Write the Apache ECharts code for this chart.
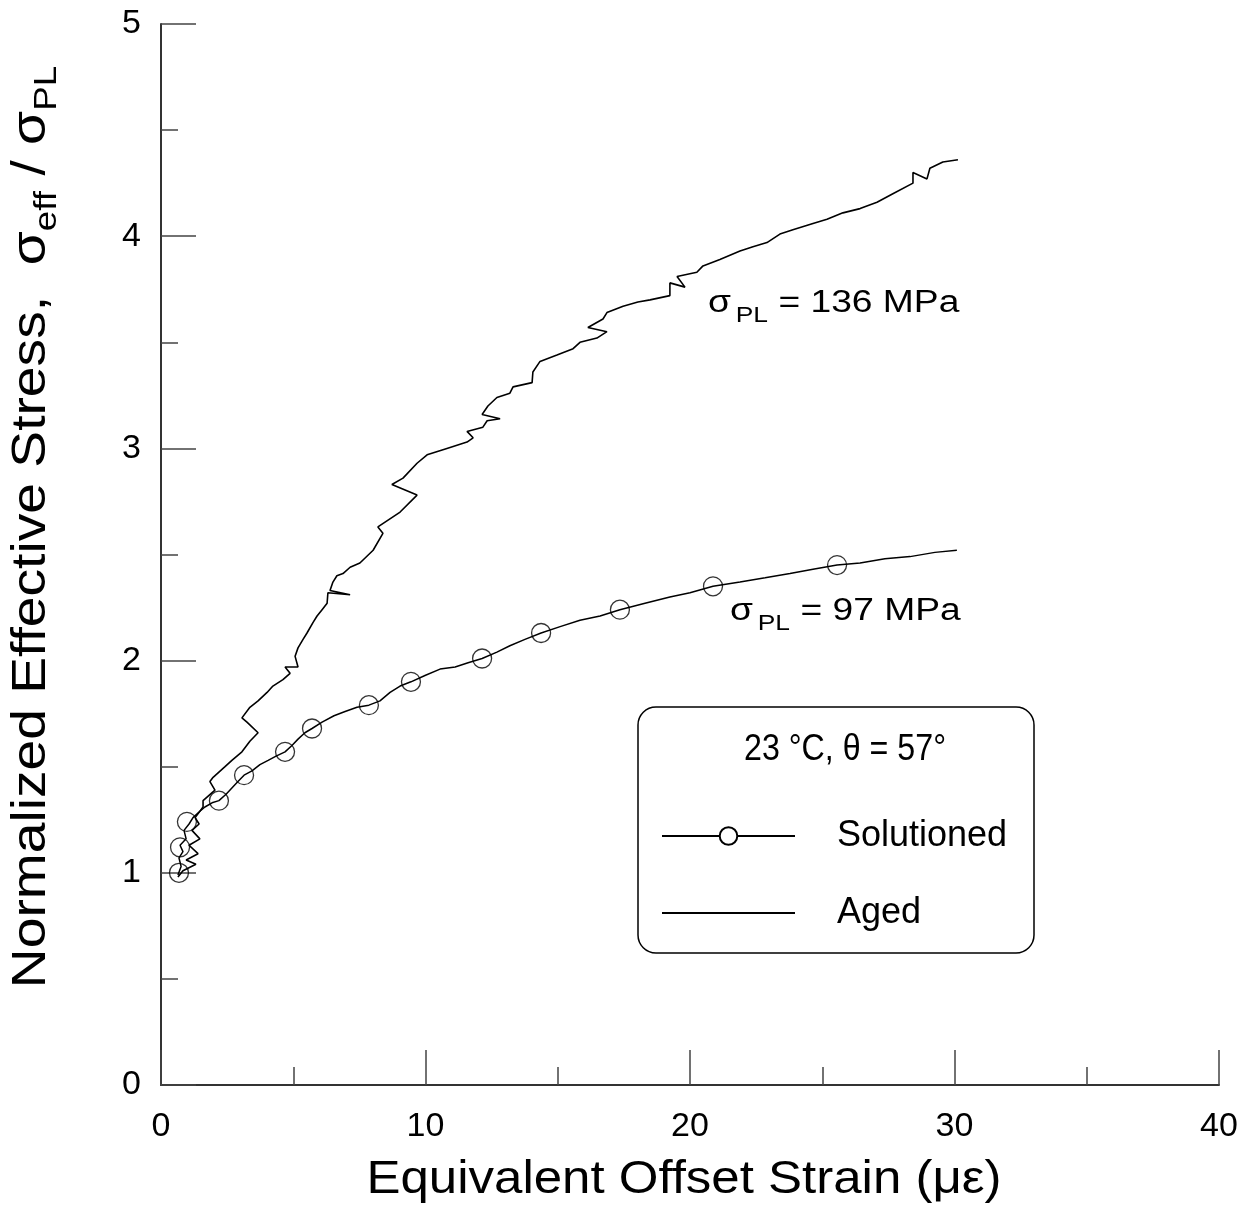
<!DOCTYPE html>
<html>
<head>
<meta charset="utf-8">
<script src="https://cdn.jsdelivr.net/npm/echarts@6/dist/echarts.min.js"></script>
<style>
html,body{margin:0;padding:0;background:#fff;}
#chart{width:1252px;height:1211px;}
</style>
</head>
<body>
<div id="chart"></div>
<script>
// ---- data ----
var xTicks = [0, 10, 20, 30, 40];
var yTicks = [0, 1, 2, 3, 4, 5];

// Aged (sigma_PL = 136 MPa) trace
var agedX = [0.64,0.83,1.32,0.95,1.40,1.06,1.47,1.17,1.44,1.29,1.59,1.59,2.04,1.85,1.97,2.42,2.68,3.06,3.36,3.67,3.25,3.06,3.36,3.67,4.01,4.23,4.61,4.88,4.69,5.18,5.07,5.18,5.37,5.52,5.75,5.90,6.09,6.28,6.31,7.15,6.39,6.50,6.65,6.88,7.15,7.52,8.02,8.39,8.20,9.04,9.68,8.73,9.15,9.68,10.06,10.81,11.57,11.80,11.57,12.17,12.33,12.82,12.14,12.36,12.70,13.19,13.31,14.03,14.06,14.33,14.97,15.58,15.84,16.48,16.86,16.14,16.71,16.86,17.47,18.03,18.49,19.24,19.24,19.81,19.51,20.26,20.49,21.13,21.89,22.38,22.91,23.40,23.89,24.65,25.18,25.78,26.43,27.07,27.67,28.43,28.43,28.96,29.07,29.56,30.13];
var agedY = [0.98,1.01,1.04,1.06,1.09,1.13,1.16,1.20,1.23,1.26,1.31,1.34,1.39,1.43,1.45,1.50,1.53,1.57,1.62,1.66,1.71,1.73,1.78,1.81,1.85,1.88,1.91,1.94,1.97,1.97,2.02,2.06,2.10,2.13,2.18,2.21,2.24,2.27,2.32,2.31,2.33,2.37,2.40,2.41,2.44,2.46,2.52,2.60,2.63,2.70,2.78,2.83,2.86,2.93,2.97,3.00,3.03,3.05,3.08,3.10,3.13,3.14,3.16,3.20,3.24,3.26,3.29,3.31,3.36,3.41,3.44,3.47,3.50,3.52,3.55,3.57,3.61,3.64,3.67,3.69,3.70,3.72,3.78,3.76,3.81,3.83,3.86,3.89,3.93,3.95,3.97,4.01,4.03,4.06,4.08,4.11,4.13,4.16,4.20,4.25,4.30,4.27,4.32,4.35,4.36];

// Solutioned (sigma_PL = 97 MPa) trace
var solX = [0.64,0.76,0.68,0.83,0.72,0.95,0.87,1.06,1.21,1.47,1.66,1.93,2.19,2.46,2.68,2.91,3.14,3.44,3.74,4.05,4.35,4.69,4.95,5.18,5.44,5.71,6.09,6.54,6.96,7.41,7.86,8.28,8.66,9.04,9.45,9.98,10.55,11.12,11.61,12.14,12.70,13.19,13.76,14.37,15.09,15.84,16.60,17.35,18.30,19.24,20.00,20.87,21.89,22.84,23.78,24.65,25.56,26.43,27.37,28.32,29.26,30.09];
var solY = [0.99,1.03,1.07,1.10,1.13,1.16,1.20,1.23,1.26,1.29,1.31,1.33,1.34,1.37,1.40,1.43,1.46,1.48,1.51,1.53,1.55,1.57,1.60,1.63,1.66,1.68,1.71,1.74,1.76,1.78,1.79,1.81,1.85,1.88,1.90,1.93,1.96,1.97,1.99,2.01,2.04,2.07,2.10,2.13,2.16,2.19,2.21,2.24,2.27,2.30,2.32,2.35,2.37,2.39,2.41,2.43,2.45,2.46,2.48,2.49,2.51,2.52];

// Solutioned marker points
var markX = [0.68,0.72,0.98,2.19,3.14,4.69,5.71,7.86,9.45,12.14,14.37,17.35,20.87,25.56];
var markY = [1.00,1.12,1.24,1.34,1.46,1.57,1.68,1.79,1.90,2.01,2.13,2.24,2.35,2.45];

var seriesNames = ['Solutioned', 'Aged'];
var legendTitle = '23 \u00B0C, \u03B8 = 57\u00B0';
var xTitle = 'Equivalent Offset Strain (\u03BC\u03B5)';
var yTitle = ['Normalized Effective Stress,  \u03C3', 'eff', ' / \u03C3', 'PL'];
var annAged = ['\u03C3', 'PL', ' = 136 MPa'];
var annSol = ['\u03C3', 'PL', ' = 97 MPa'];

function zip(a, b) { return a.map(function (v, i) { return [v, b[i]]; }); }

var SANS = "'Liberation Sans',Arial,sans-serif";

function annText(parts, x, y) {
  return {
    type: 'text', z: 5, x: x, y: y, scaleX: 1.2,
    style: {
      text: '{a|' + parts[0] + '}{s|' + parts[1] + '}{a|' + parts[2] + '}',
      verticalAlign: 'middle', align: 'left',
      rich: {a: {fontFamily: SANS, fontSize: 31, fill: '#000'},
             s: {fontFamily: SANS, fontSize: 22, fill: '#000', padding: [26, 0, 0, 4]}}
    }
  };
}

var chart = echarts.init(document.getElementById('chart'), null, {renderer: 'canvas'});
chart.setOption({
  animation: false,
  backgroundColor: '#fff',
  grid: {left: 161, right: 33, top: 24, bottom: 126, containLabel: false},
  xAxis: {
    type: 'value', min: xTicks[0], max: xTicks[xTicks.length - 1], interval: 10,
    axisLine: {show: true, onZero: false, lineStyle: {color: '#333', width: 2}},
    axisTick: {show: true, inside: true, length: 35, lineStyle: {color: '#444', width: 1.5}},
    minorTick: {show: true, splitNumber: 2, length: 18, lineStyle: {color: '#444', width: 1.5}},
    axisLabel: {fontFamily: SANS, fontSize: 34, color: '#000', margin: 25},
    splitLine: {show: false}
  },
  yAxis: {
    type: 'value', min: yTicks[0], max: yTicks[yTicks.length - 1], interval: 1,
    axisLine: {show: true, onZero: false, lineStyle: {color: '#333', width: 2}},
    axisTick: {show: true, inside: true, length: 35, lineStyle: {color: '#444', width: 1.5}},
    minorTick: {show: true, splitNumber: 2, length: 17, lineStyle: {color: '#444', width: 1.5}},
    axisLabel: {fontFamily: SANS, fontSize: 34, color: '#000', margin: 20},
    splitLine: {show: false}
  },
  legend: {
    data: [{name: seriesNames[0]}, {name: seriesNames[1], itemStyle: {opacity: 0}}],
    orient: 'vertical', left: 661, top: 818, padding: 0,
    itemWidth: 133, itemHeight: 22, itemGap: 41,
    textStyle: {fontFamily: SANS, fontSize: 36, color: '#000', lineHeight: 22, padding: [0, 0, 0, 37]},
    selectedMode: false, z: 10
  },
  graphic: [
    {type: 'rect', z: 1, shape: {x: 638, y: 707, width: 396, height: 246, r: 18},
     style: {fill: '#fff', stroke: '#000', lineWidth: 1.5}},
    {type: 'text', z: 5, x: 845, y: 750, scaleX: 0.87,
     style: {text: legendTitle, fontFamily: SANS, fontSize: 37, fill: '#000', align: 'center', verticalAlign: 'middle'}},
    annText(annAged, 708, 303),
    annText(annSol, 730, 611),
    {type: 'text', z: 5, x: 684, y: 1180, scaleX: 1.085,
     style: {text: xTitle, fontFamily: SANS, fontSize: 47, fill: '#000', align: 'center', verticalAlign: 'middle'}},
    {type: 'text', z: 5, x: 32, y: 527, rotation: Math.PI / 2, scaleX: 1.15,
     style: {
       text: '{n|' + yTitle[0] + '}{s|' + yTitle[1] + '}{n|' + yTitle[2] + '}{s|' + yTitle[3] + '}',
       align: 'center', verticalAlign: 'middle',
       rich: {n: {fontFamily: SANS, fontSize: 48, fill: '#000'},
              s: {fontFamily: SANS, fontSize: 32, fill: '#000', padding: [30, 0, 0, 0]}}
     }}
  ],
  series: [
    {
      name: seriesNames[0], type: 'line', data: zip(solX, solY),
      symbol: 'emptyCircle', symbolSize: 19, showSymbol: false,
      lineStyle: {color: '#000', width: 1.5}, itemStyle: {color: '#000', borderColor: '#000', borderWidth: 1.3},
      z: 3, silent: true
    },
    {
      name: 'Solutioned markers', type: 'scatter', data: zip(markX, markY),
      symbol: 'circle', symbolSize: 19,
      itemStyle: {color: 'rgba(0,0,0,0)', borderColor: '#000', borderWidth: 1.3},
      z: 4, silent: true
    },
    {
      name: seriesNames[1], type: 'line', data: zip(agedX, agedY),
      symbol: 'none', lineStyle: {color: '#000', width: 1.6}, itemStyle: {color: '#000'},
      z: 3, silent: true
    }
  ]
});
</script>
</body>
</html>
